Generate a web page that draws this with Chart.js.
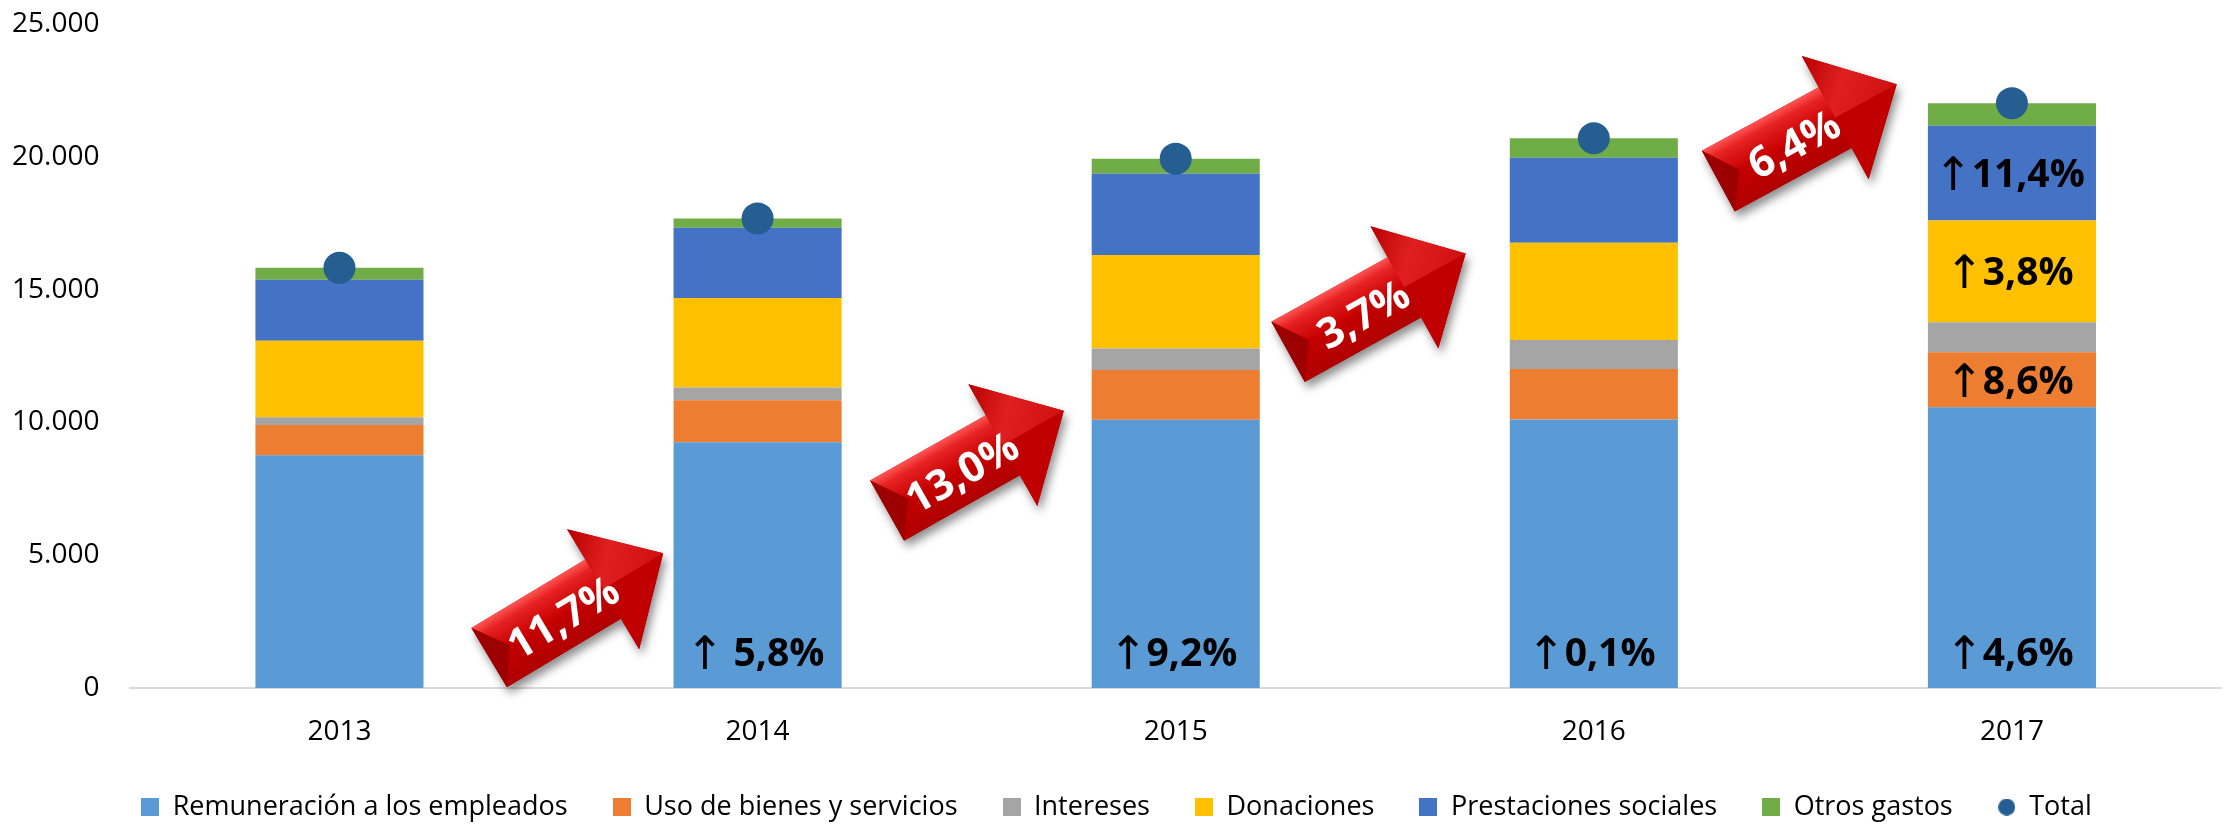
<!DOCTYPE html>
<html>
<head>
<meta charset="utf-8">
<script src="https://cdn.jsdelivr.net/npm/chart.js@4.4.1/dist/chart.umd.min.js"></script>
<style>
  html, body { margin: 0; padding: 0; background: #fff; }
  #wrap { width: 2233px; height: 824px; position: relative; }
</style>
</head>
<body>
<div id="wrap"><canvas id="myChart"></canvas></div>
<script>
// data (millones)

var years         = ["2013", "2014", "2015", "2016", "2017"];
var remuneracion  = [8760, 9250, 10100, 10110, 10570];
var usoBienes     = [1140, 1580, 1870, 1900, 2070];
var intereses     = [290, 480, 810, 1090, 1130];
var donaciones    = [2880, 3370, 3520, 3660, 3830];
var prestaciones  = [2300, 2650, 3060, 3200, 3570];
var otrosGastos   = [450, 350, 570, 740, 850];
var totalGasto    = [15820, 17680, 19930, 20700, 22020];

var yMax  = 25000;
var yStep = 5000;

// growth labels
var growthTotal = ["11,7%", "13,0%", "3,7%", "6,4%"];
var growthRem   = ["", "↑ 5,8%", "↑9,2%", "↑0,1%", "↑4,6%"];
var growthUso   = ["", "", "", "", "↑8,6%"];
var growthDon   = ["", "", "", "", "↑3,8%"];
var growthPrest = ["", "", "", "", "↑11,4%"];

// where the red arrows sit (category index, value, angle)
var arrowPlace = [
    { x: 0.565, y: 3100,  angle: -31 },
    { x: 1.52,  y: 8550,  angle: -29.5 },
    { x: 2.48,  y: 14500, angle: -29 },
    { x: 3.51,  y: 20900, angle: -28.5 }
];

var colors = ["#5b9bd5", "#ed7d31", "#a5a5a5", "#ffc000", "#4472c4", "#70ad47", "#255e91"];

// utilities

function fmtThousands(v)
{
    return String(v).replace(/\B(?=(\d{3})+(?!\d))/g, ".");
}

function makeIcon(color, round)
{
    var c = document.createElement("canvas");
    c.width = round ? 17 : 18;
    c.height = round ? 17 : 18;
    var g = c.getContext("2d");
    g.fillStyle = color;
    if (round) {
        g.beginPath();
        g.arc(8.5, 8.5, 8.5, 0, Math.PI * 2);
        g.fill();
    } else {
        g.fillRect(0, 0, 18, 18);
    }
    return c;
}

var legendIcons = colors.map(function (c, i) { return makeIcon(c, i == 6); });

function drawBigArrow(ctx, cx, cy, angle, text)
{
    var tail = -101, neck = 32, tip = 102, sh = 34.5, hh = 70;

    ctx.save();
    ctx.translate(cx, cy);
    ctx.rotate(angle * Math.PI / 180);

    // outline + shadow
    ctx.beginPath();
    ctx.moveTo(tail, -sh);
    ctx.lineTo(neck, -sh);
    ctx.lineTo(neck, -hh);
    ctx.lineTo(tip, 0);
    ctx.lineTo(neck, hh);
    ctx.lineTo(neck, sh);
    ctx.lineTo(tail, sh);
    ctx.closePath();
    ctx.save();
    ctx.shadowColor = "rgba(0,0,0,0.45)";
    ctx.shadowBlur = 10;
    ctx.shadowOffsetX = 3;
    ctx.shadowOffsetY = 6;
    ctx.fillStyle = "#c00000";
    ctx.fill();
    ctx.restore();

    // shaft upper face
    var g = ctx.createLinearGradient(0, -sh, 0, 0);
    g.addColorStop(0, "#ff5555");
    g.addColorStop(0.3, "#e62222");
    g.addColorStop(1, "#c80000");
    ctx.fillStyle = g;
    ctx.beginPath();
    ctx.moveTo(tail, -sh);
    ctx.lineTo(neck, -sh);
    ctx.lineTo(neck, 0);
    ctx.lineTo(tail + 24, 0);
    ctx.closePath();
    ctx.fill();

    // shaft lower face
    var g2 = ctx.createLinearGradient(0, 0, 0, sh);
    g2.addColorStop(0, "#c40000");
    g2.addColorStop(1, "#b00000");
    ctx.fillStyle = g2;
    ctx.beginPath();
    ctx.moveTo(tail + 24, 0);
    ctx.lineTo(neck, 0);
    ctx.lineTo(neck, sh);
    ctx.lineTo(tail, sh);
    ctx.closePath();
    ctx.fill();

    // tail bevel
    ctx.fillStyle = "#9c0000";
    ctx.beginPath();
    ctx.moveTo(tail, -sh);
    ctx.lineTo(tail + 24, 0);
    ctx.lineTo(tail, sh);
    ctx.closePath();
    ctx.fill();

    // head
    var g3 = ctx.createLinearGradient(neck, -hh, tip, 0);
    g3.addColorStop(0, "#b80000");
    g3.addColorStop(0.45, "#e02020");
    g3.addColorStop(1, "#d01010");
    ctx.fillStyle = g3;
    ctx.beginPath();
    ctx.moveTo(neck, -hh);
    ctx.lineTo(tip, 0);
    ctx.lineTo(neck, 0);
    ctx.closePath();
    ctx.fill();

    ctx.fillStyle = "#c00000";
    ctx.beginPath();
    ctx.moveTo(neck, 0);
    ctx.lineTo(tip, 0);
    ctx.lineTo(neck, hh);
    ctx.closePath();
    ctx.fill();

    // label
    ctx.fillStyle = "#ffffff";
    ctx.font = "bold 42px 'Open Sans', sans-serif";
    ctx.textAlign = "center";
    ctx.textBaseline = "middle";
    ctx.fillText(text, -17, 6);

    ctx.restore();
}

function drawGrowth(ctx, text, cx, baseline)
{
    var arrow = text.charAt(0);
    var rest = text.slice(1);
    ctx.font = "46px 'DejaVu Sans', sans-serif";
    var aw = ctx.measureText(arrow).width;
    ctx.font = "bold 39px 'Open Sans', sans-serif";
    var rw = ctx.measureText(rest).width;
    var x0 = cx - (aw + rw) / 2 + 2;

    ctx.fillStyle = "#000000";
    ctx.textAlign = "left";
    ctx.textBaseline = "alphabetic";
    ctx.font = "46px 'DejaVu Sans', sans-serif";
    ctx.fillText(arrow, x0 - 4, baseline + 3);
    ctx.font = "bold 39px 'Open Sans', sans-serif";
    ctx.fillText(rest, x0 + aw - 5, baseline);
}

var growthByDataset = { 0: growthRem, 1: growthUso, 3: growthDon, 4: growthPrest };

var annotationPlugin = {
    id: "growthAnnotations",
    afterDatasetsDraw: function (chart) {
        var ctx = chart.ctx;
        ctx.save();

        // labels inside the bars
        Object.keys(growthByDataset).forEach(function (k) {
            var idx = parseInt(k);
            var labels = growthByDataset[k];
            var meta = chart.getDatasetMeta(idx);
            meta.data.forEach(function (bar, i) {
                if (!labels[i]) return;
                if (idx == 0) {
                    drawGrowth(ctx, labels[i], bar.x, bar.base - 22);
                } else {
                    drawGrowth(ctx, labels[i], bar.x, (bar.y + bar.base) / 2 + 14);
                }
            });
        });

        // red arrows between years
        var xs = chart.scales.x;
        var ys = chart.scales.y;
        var step = xs.getPixelForValue(1) - xs.getPixelForValue(0);
        growthTotal.forEach(function (t, i) {
            var p = arrowPlace[i];
            var px = xs.getPixelForValue(0) + p.x * step;
            var py = ys.getPixelForValue(p.y);
            drawBigArrow(ctx, px, py, p.angle, t);
        });

        ctx.restore();
    }
};

// set up

Chart.defaults.font.family = "'Open Sans', sans-serif";
Chart.defaults.color = "#000000";

var ctx1;
var myChart1;

function barSet(label, data, color)
{
    return {
        type: "bar",
        label: label,
        data: data,
        backgroundColor: color,
        borderWidth: 0,
        stack: "gastos",
        categoryPercentage: 1.0,
        barPercentage: 0.402
    };
}

function loadCanvas()
{
    ctx1 = document.getElementById("myChart");
    myChart1 = new Chart(ctx1.getContext("2d"), {
        data: {
            labels: years,
            datasets: [
                barSet("Remuneración a los empleados", remuneracion, colors[0]),
                barSet("Uso de bienes y servicios", usoBienes, colors[1]),
                barSet("Intereses", intereses, colors[2]),
                barSet("Donaciones", donaciones, colors[3]),
                barSet("Prestaciones sociales", prestaciones, colors[4]),
                barSet("Otros gastos", otrosGastos, colors[5]),
                {
                    type: "line",
                    label: "Total",
                    data: totalGasto,
                    showLine: false,
                    stack: "total",
                    order: -1,
                    clip: false,
                    pointRadius: 16,
                    pointHoverRadius: 16,
                    pointBorderWidth: 0,
                    pointBackgroundColor: colors[6],
                    borderColor: colors[6],
                    backgroundColor: colors[6]
                }
            ]
        },
        options: {
            responsive: true,
            maintainAspectRatio: false,
            animation: false,
            layout: { autoPadding: false, padding: { left: 12, right: 12, top: 24, bottom: -6.6 } },
            scales: {
                x: {
                    stacked: true,
                    grid: { display: false, drawTicks: false },
                    border: { display: true, color: "#d9d9d9", width: 2 },
                    ticks: { font: { size: 28 }, padding: 27 },
                    // chart.js counts the tick padding twice, take one back
                    afterFit: function (s) { s.paddingLeft = 0; s.paddingRight = 0; s.height = s.height - 27; }
                },
                y: {
                    stacked: true,
                    min: 0,
                    max: yMax,
                    grid: { display: false, drawTicks: false },
                    border: { display: false },
                    ticks: {
                        stepSize: yStep,
                        font: { size: 28 },
                        padding: 31,
                        callback: function (v) { return fmtThousands(v); }
                    },
                    afterFit: function (s) { s.paddingTop = 0; s.paddingBottom = 0; s.width = s.width - 31; }
                }
            },
            plugins: {
                tooltip: { enabled: false },
                legend: {
                    position: "bottom",
                    labels: {
                        usePointStyle: true,
                        boxWidth: 18,
                        boxHeight: 18,
                        padding: 45,
                        font: { size: 27 },
                        color: "#000000",
                        sort: function (a, b) { return a.datasetIndex - b.datasetIndex; },
                        generateLabels: function (chart) {
                            var items = Chart.defaults.plugins.legend.labels.generateLabels(chart);
                            items.forEach(function (it) { it.pointStyle = legendIcons[it.datasetIndex]; });
                            return items;
                        }
                    }
                }
            }
        },
        plugins: [annotationPlugin]
    });
}

loadCanvas();
</script>
</body>
</html>
